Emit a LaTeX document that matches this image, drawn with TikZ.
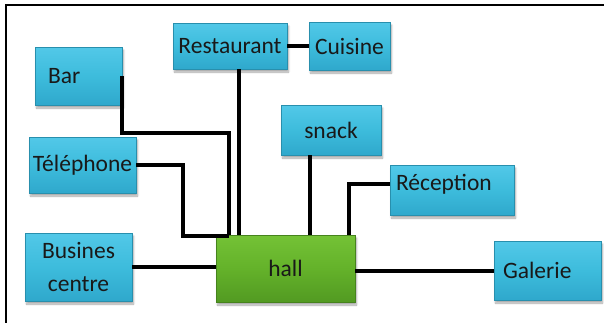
\documentclass[tikz,border=0pt]{standalone}
\usepackage{fontspec}
\setmainfont{Carlito}
\usetikzlibrary{shadows.blur}

\definecolor{roomblue}{HTML}{3DBCDC}
\definecolor{roomtop}{HTML}{52C8E8}
\definecolor{roombot}{HTML}{2FA8CC}
\definecolor{hallgreen}{HTML}{64B22A}
\definecolor{halltop}{HTML}{74C236}
\definecolor{hallbot}{HTML}{529A22}

\tikzset{
  room/.style={rectangle, inner sep=0pt, top color=roomtop, bottom color=roombot,
    middle color=roomblue, draw=roombot!85!black, line width=0.6pt, text=black!90,
    font=\fontsize{23.5}{33}\selectfont,
    blur shadow={shadow xshift=1.5pt, shadow yshift=-3pt, shadow blur steps=6, shadow opacity=35}},
  hallbox/.style={room, top color=halltop, bottom color=hallbot, middle color=hallgreen,
    draw=hallbot!85!black},
  link/.style={line width=4pt, black}
}

\begin{document}
\begin{tikzpicture}[x=1pt, y=-1pt]
\useasboundingbox (0,0) rectangle (604,322);
\clip (0,0) rectangle (604,322);

% frame
\draw[line width=2pt] (6,5) rectangle (650,370);

% rooms
\node[room, minimum width=87pt, minimum height=58pt, text width=61pt, align=left] (bar) at (78.5,76) {Bar};
\node[room, minimum width=114pt, minimum height=46pt] (resto) at (230,46) {Restaurant};
\node[room, minimum width=81pt, minimum height=48pt] (cuisine) at (349.5,46) {Cuisine};
\node[room, minimum width=100pt, minimum height=50pt] (snack) at (331,130) {snack};
\node[room, minimum width=107pt, minimum height=56pt] (tel) at (82.5,165) {Téléphone};
\node[room, minimum width=107pt, minimum height=68pt, align=center] (busi) at (78.5,267) {Busines\\centre};
\node[room, minimum width=124pt, minimum height=50pt, text width=112pt, align=left, text depth=15pt] (recep) at (452,190) {Réception};
\node[room, minimum width=107pt, minimum height=59pt, text width=89pt, align=left] (gal) at (547.5,270.5) {Galerie};

% hall in the middle
\node[hallbox, minimum width=139pt, minimum height=67pt] (hall) at (285.5,268.5) {hall};

% bends of the links
\coordinate (barbend) at (229,133);
\coordinate (telbend) at (183,236);
\coordinate (recbend) at (349,184);
\coordinate (restodrop) at ([xshift=9pt]resto.south);
\coordinate (snackdrop) at ([xshift=-21pt]snack.south);

% links
\draw[link] (resto.east) -- (cuisine.west);
\draw[link] (bar.east) |- (barbend) -- (barbend |- hall.north);
\draw[link] (tel.east) -| (telbend) -- (barbend |- telbend);
\draw[link] (restodrop) -- (restodrop |- hall.north);
\draw[link] (snackdrop) -- (snackdrop |- hall.north);
\draw[link] (recbend -| recep.west) -- (recbend) -- (recbend |- hall.north);
\draw[link] (busi.east) -- (busi.east -| hall.west);
\draw[link] (hall.east |- gal.west) -- (gal.west);

\end{tikzpicture}
\end{document}
